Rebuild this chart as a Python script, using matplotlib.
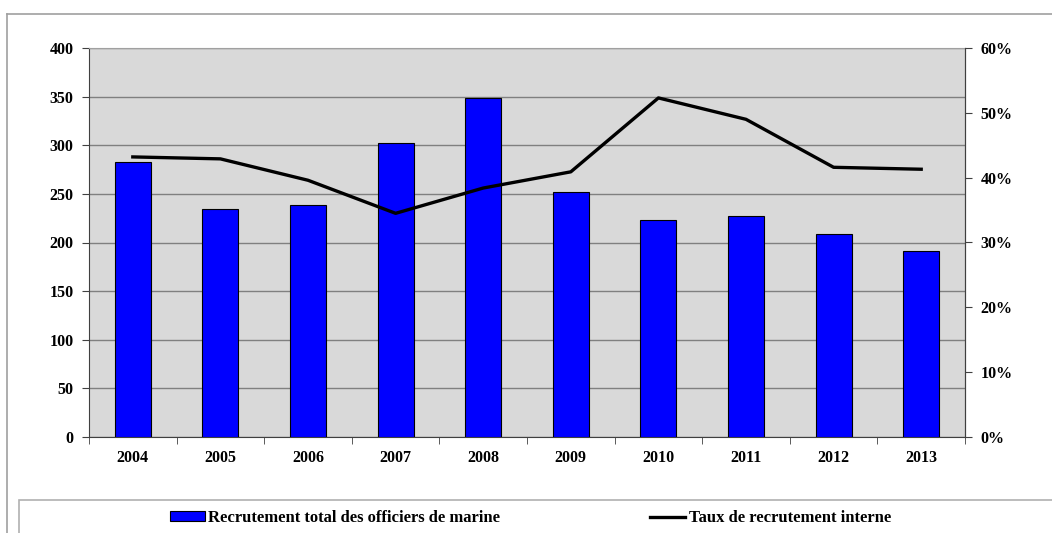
import matplotlib.pyplot as plt
import matplotlib.patches as patches
from matplotlib.lines import Line2D
from matplotlib.ticker import FuncFormatter, MultipleLocator, FixedLocator

years = ['2004', '2005', '2006', '2007', '2008', '2009', '2010', '2011', '2012', '2013']
recrutement_total = [283, 234, 239, 302, 349, 252, 223, 227, 209, 191]
taux_interne = [0.432, 0.429, 0.396, 0.345, 0.384, 0.409, 0.523, 0.490, 0.416, 0.413]

label_bars = 'Recrutement total des officiers de marine'
label_line = 'Taux de recrutement interne'

plt.rcParams['font.family'] = ['Liberation Serif', 'DejaVu Serif']
plt.rcParams['font.weight'] = 'bold'

W, H = 1052, 533
fig = plt.figure(figsize=(W / 100, H / 100), dpi=100)
fig.patch.set_facecolor('white')

# plot area in pixels: x 89..965, y 48..437
ax = fig.add_axes([89 / W, 1 - 437 / H, (965 - 89) / W, (437 - 48) / H])
ax.set_facecolor('#d9d9d9')

x = range(len(years))
ax.bar(x, recrutement_total, width=0.41, color='#0000ff', edgecolor='black',
       linewidth=0.8, zorder=3)
ax.set_xlim(-0.5, len(years) - 0.5)
ax.set_ylim(0, 400)
ax.yaxis.set_major_locator(MultipleLocator(50))
ax.grid(axis='y', color='#808080', linewidth=1.0, zorder=1)
ax.set_axisbelow(True)

ax.set_xticks(list(x))
ax.set_xticklabels(years)
ax.xaxis.set_minor_locator(FixedLocator([i - 0.5 for i in range(len(years) + 1)]))
ax.tick_params(axis='x', which='major', length=0, pad=9, labelsize=11.5)
ax.tick_params(axis='x', which='minor', length=5, direction='out', color='#404040')
ax.tick_params(axis='y', length=5, direction='out', color='#404040', labelsize=11.5, pad=6)

for side in ['left', 'bottom']:
    ax.spines[side].set_color('#404040')
ax.spines['top'].set_color('#a0a0a0')
ax.spines['right'].set_color('#404040')

ax2 = ax.twinx()
ax2.plot(x, taux_interne, color='black', linewidth=2.4, zorder=4)
ax2.set_ylim(0, 0.6)
ax2.yaxis.set_major_locator(MultipleLocator(0.1))
ax2.yaxis.set_major_formatter(FuncFormatter(lambda v, p: '%d%%' % round(v * 100)))
ax2.tick_params(axis='y', length=5, direction='out', color='#404040', labelsize=11.5, pad=6)
ax2.spines['right'].set_color('#404040')
ax2.spines['top'].set_visible(False)
ax2.spines['left'].set_visible(False)
ax2.spines['bottom'].set_visible(False)

# outer chart frame
fig.add_artist(Line2D([7 / W, 1], [1 - 14 / H, 1 - 14 / H], transform=fig.transFigure,
                      color='#a0a0a0', linewidth=1.2))
fig.add_artist(Line2D([7 / W, 7 / W], [0, 1 - 14 / H], transform=fig.transFigure,
                      color='#a0a0a0', linewidth=1.2))

# legend frame
fig.add_artist(patches.Rectangle((19 / W, -0.01), 1, (0.01 + 33 / H),
                                 transform=fig.transFigure, facecolor='white',
                                 edgecolor='#b0b0b0', linewidth=1.2))

handles = [patches.Patch(facecolor='#0000ff', edgecolor='black', linewidth=0.8),
           Line2D([0], [0], color='black', linewidth=2.4)]
fig.legend(handles, [label_bars, label_line], loc='center left',
           bbox_to_anchor=(170 / W, 1 - 518 / H), ncol=2, frameon=False,
           fontsize=12, handlelength=2.1, handleheight=0.5, handletextpad=0.2,
           columnspacing=9.0, borderpad=0, borderaxespad=0)

fig.savefig('out.png', dpi=100)
